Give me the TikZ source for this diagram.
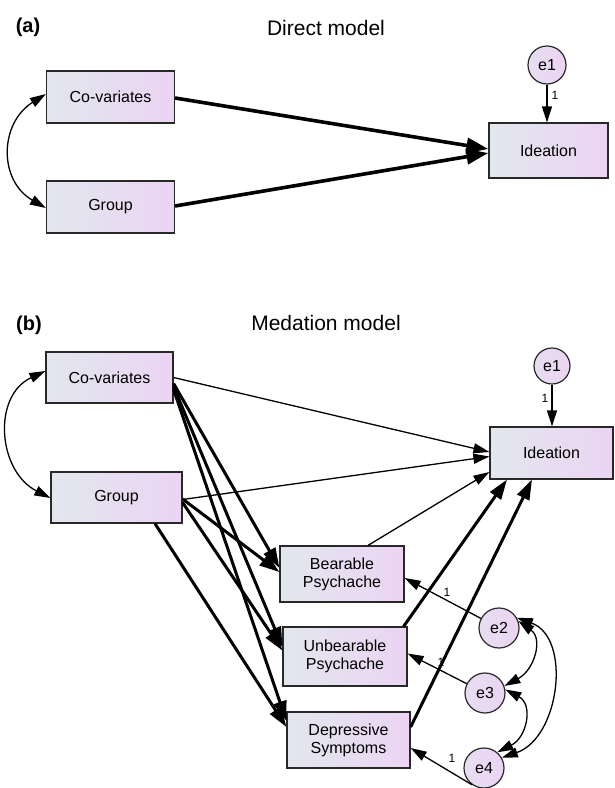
\documentclass[tikz,border=0pt]{standalone}
\usepackage{fontspec}
\setmainfont{Liberation Sans}
\usetikzlibrary{arrows.meta,calc}
\definecolor{fillL}{RGB}{226,231,237}
\definecolor{fillR}{RGB}{235,212,243}
\definecolor{edgec}{RGB}{40,40,40}
\begin{document}
\begin{tikzpicture}[x=1pt,y=-1pt,
  box/.style={draw=edgec, line width=1.2pt, left color=fillL, right color=fillR, inner sep=0pt, align=center, font=\fontsize{16}{18}\selectfont},
  err/.style={circle, draw=edgec, line width=1.2pt, left color=fillL!50!fillR, right color=fillR, inner sep=0pt, font=\fontsize{16}{18}\selectfont},
  thinpath/.style={line width=1.3pt, -{Triangle[length=16pt,width=10pt]}},
  thickpath/.style={line width=3pt, -{Triangle[length=20pt,width=13pt]}},
  heavypath/.style={line width=3.6pt, -{Triangle[length=22pt,width=15pt]}},
  covar/.style={line width=1.3pt, {Triangle[length=16pt,width=10pt]}-{Triangle[length=16pt,width=10pt]}},
  lbl/.style={font=\fontsize{12}{14}\selectfont, inner sep=0pt},
  ttl/.style={font=\fontsize{21}{24}\selectfont, inner sep=0pt},
  tagl/.style={font=\bfseries\fontsize{20}{24}\selectfont, inner sep=0pt}
]
\useasboundingbox (0,0) rectangle (615,788);

% ---------- panel (a)
\node[tagl] (taga) at (28,27) {(a)};
\node[ttl] (ttla) at (326,28) {Direct model};
\node[box, minimum width=128pt, minimum height=52pt] (acov) at (110.5,97) {Co-variates};
\node[box, minimum width=128pt, minimum height=52pt] (agrp) at (110.5,207) {Group};
\node[box, minimum width=119pt, minimum height=55pt] (aide) at (548.5,150.5) {Ideation};
\node[err, minimum size=38pt] (ae1) at (547,65) {e1};

\draw[heavypath] ($(acov.east)+(0,1)$) -- ($(aide.west)+(0,-1.5)$);
\draw[heavypath] ($(agrp.east)+(0,-1)$) -- ($(aide.west)+(0,2.5)$);
\draw[thinpath] (ae1.south) -- (ae1.south |- aide.north);
\node[lbl] (la1) at (555,95) {1};
\draw[covar] ($(acov.west)+(0,-3)$) .. controls +(-46.6,29.2) and +(-47.6,-27.5) .. ($(agrp.west)+(0,1)$);

% ---------- panel (b)
\node[tagl] (tagb) at (29,325) {(b)};
\node[ttl] (ttlb) at (326,323) {Medation model};
\node[box, minimum width=127pt, minimum height=51pt] (bcov) at (109.5,377.5) {Co-variates};
\node[box, minimum width=131pt, minimum height=51pt] (bgrp) at (116.5,497.5) {Group};
\node[box, minimum width=123pt, minimum height=52pt] (bide) at (551.5,453) {Ideation};
\node[err, minimum size=36pt] (be1) at (552,366) {e1};
\node[box, minimum width=124pt, minimum height=56pt] (bbear) at (342,574) {Bearable\\Psychache};
\node[box, minimum width=124pt, minimum height=59pt] (bunb) at (345,656.5) {Unbearable\\Psychache};
\node[box, minimum width=123pt, minimum height=56pt] (bdep) at (348.5,740) {Depressive\\Symptoms};
\node[err, minimum size=40pt] (e2) at (499,628) {e2};
\node[err, minimum size=40pt] (e3) at (485,693) {e3};
\node[err, minimum size=40pt] (e4) at (484,768) {e4};

\node[lbl] (l1) at (545,398) {1};
\node[lbl] (l2) at (447,592) {1};
\node[lbl] (l3) at (441,662) {1};
\node[lbl] (l4) at (452,758) {1};

% direct paths to Ideation
\draw[thinpath] (bcov.east) -- ($(bide.west)+(0,-1)$);
\draw[thinpath] ($(bgrp.east)+(0,2)$) -- ($(bide.west)+(0,3.5)$);
\draw[thinpath] ($(bbear.north)+(26,0)$) -- ($(bide.west)+(0,19)$);
\draw[thickpath] ($(bunb.north east)+(-4,0)$) -- ($(bide.south)+(-44.5,0)$);
\draw[thickpath] ($(bdep.east)+(0,-13)$) -- ($(bide.south)+(-19.5,0)$);
\draw[thinpath] (be1.south) -- (be1.south |- bide.north);

% predictors to mediators
\draw[thickpath] ($(bcov.east)+(0,6)$) -- ($(bbear.west)+(0,-6)$);
\draw[thickpath] ($(bcov.east)+(0,9)$) -- ($(bunb.west)+(0,-9.5)$);
\draw[thickpath] ($(bcov.east)+(0,12)$) -- ($(bdep.west)+(0,-19)$);
\draw[thickpath] ($(bgrp.east)+(0,1.5)$) -- ($(bbear.west)+(0,-2)$);
\draw[thickpath] ($(bgrp.east)+(0,5)$) -- ($(bunb.west)+(0,-6)$);
\draw[thickpath] ($(bgrp.south)+(38.5,0)$) -- ($(bdep.west)+(0,-13)$);

% errors to mediators
\draw[thinpath] (e2) -- ($(bbear.east)+(0,4)$);
\draw[thinpath] (e3) -- ($(bunb.east)+(0,-3)$);
\draw[thinpath] (e4.235) -- ($(bdep.east)+(0,8)$);

% covariances
\draw[covar] ($(bcov.west)+(0,-6.5)$) .. controls +(-53.5,25) and +(-52.6,-26.8) .. ($(bgrp.west)+(0,0.5)$);
\draw[covar] (e2.20) .. controls +(25,18) and +(30,-16) .. (e3.20);
\draw[covar] (e3.10) .. controls +(28,15) and +(30,-15) .. (e4.50);
\draw[covar] (e2.30) .. controls +(55,20) and +(58,-20) .. (e4.30);
\end{tikzpicture}
\end{document}
